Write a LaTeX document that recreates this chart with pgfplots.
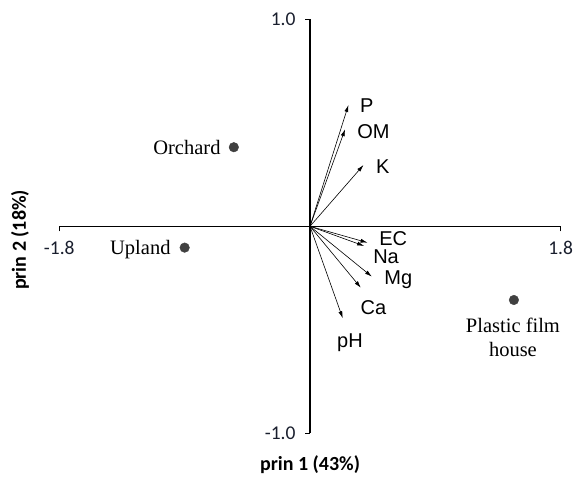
\documentclass[border=0pt]{standalone}
\usepackage{fontspec}
\setmainfont{Carlito}
\newfontfamily\arialf{Liberation Sans}
\newfontfamily\timesf{Liberation Serif}
\usepackage{pgfplots}
\usepackage{pgfplotstable}
\pgfplotsset{compat=1.18}
\usetikzlibrary{arrows.meta}
\definecolor{dotgray}{RGB}{64,64,64}
\definecolor{tickcol}{RGB}{25,30,45}

\pgfplotstableread{
x y u v
0 0 0.276 0.586
0 0 0.252 0.469
0 0 0.384 0.296
0 0 0.413 -0.079
0 0 0.389 -0.095
0 0 0.444 -0.243
0 0 0.365 -0.297
0 0 0.235 -0.444
}\loadings

\pgfplotstableread{
x y
-0.547 0.382
-0.900 -0.103
1.464 -0.356
}\scores

\begin{document}
\begin{tikzpicture}
\path[use as bounding box] (-59.3pt,-43.7pt) rectangle (513.7pt,433.3pt);
\begin{axis}[
  at={(0pt,0pt)}, anchor=south west,
  scale only axis, width=501.4pt, height=414pt,
  xmin=-1.8, xmax=1.8, ymin=-1, ymax=1,
  enlargelimits=false,
  axis lines=middle,
  axis line style={-, line width=1.2pt, black},
  xtick={-1.8,1.8}, xticklabels={{-1.8},{1.8}},
  ytick={-1,1}, yticklabels={{-1.0},{1.0}},
  tick align=outside, major tick length=5pt,
  tick style={line width=1.2pt, black},
  ticklabel style={font=\fontsize{19.5}{22}\selectfont, text=tickcol},
  xticklabel style={yshift=-6pt},
  yticklabel style={xshift=-6pt},
  clip=false,
]
\addplot[quiver={u=\thisrow{u},v=\thisrow{v}}, -{Latex[length=7pt,width=4pt]}, line width=0.6pt, black] table[x=x,y=y] {\loadings};
\addplot[only marks, mark=*, mark size=4.8pt, color=dotgray] table[x=x,y=y] {\scores};

\begin{scope}[every node/.style={inner sep=0pt, font=\arialf\fontsize{20}{24}\selectfont}]
\node at (axis cs:0.407,0.581) {P};
\node at (axis cs:0.455,0.457) {OM};
\node at (axis cs:0.522,0.288) {K};
\node at (axis cs:0.598,-0.058) {EC};
\node at (axis cs:0.546,-0.147) {Na};
\node at (axis cs:0.634,-0.259) {Mg};
\node at (axis cs:0.455,-0.391) {Ca};
\node at (axis cs:0.287,-0.562) {pH};
\end{scope}

\begin{scope}[every node/.style={inner sep=0pt, font=\timesf\fontsize{20.5}{24}\selectfont}]
\node[anchor=east] at (axis cs:-0.641,0.38) {Orchard};
\node[anchor=east] at (axis cs:-1.0,-0.11) {Upland};
\node[align=center] at (axis cs:1.457,-0.535) {Plastic film\\house};
\end{scope}

\node[font=\bfseries\fontsize{20}{24}\selectfont, inner sep=0pt] at ([yshift=-31.7pt]axis description cs:0.5,0) {prin 1 (43\%)};
\node[font=\bfseries\fontsize{20}{24}\selectfont, inner sep=0pt, rotate=90] at ([xshift=-39.3pt]axis description cs:0,0.467) {prin 2 (18\%)};
\end{axis}
\end{tikzpicture}
\end{document}
